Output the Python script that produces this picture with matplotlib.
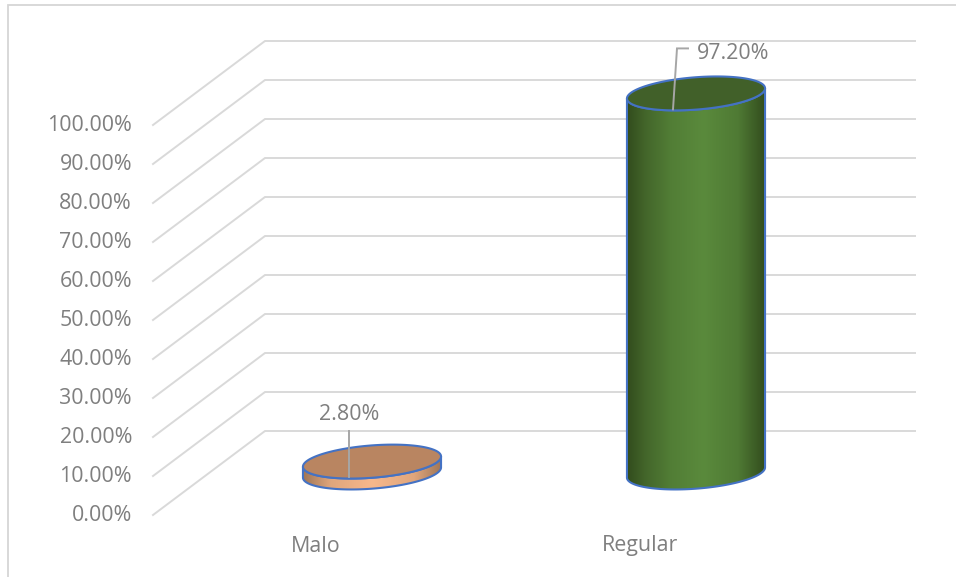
import numpy as np
import matplotlib
matplotlib.use("Agg")
import matplotlib.pyplot as plt
from matplotlib.colors import LinearSegmentedColormap
from matplotlib.patches import Polygon

categories = ["Malo", "Regular"]
values = [2.80, 97.20]
value_labels = ["2.80%", "97.20%"]
ticks = [0, 10, 20, 30, 40, 50, 60, 70, 80, 90, 100]
tick_labels = ["0.00%", "10.00%", "20.00%", "30.00%", "40.00%", "50.00%",
               "60.00%", "70.00%", "80.00%", "90.00%", "100.00%"]

W, H = 956, 577
PX_PER_CAT = 324.0
PX_PER_PCT = 3.9
X0_PX, BACK0_PX = 372.0, 431.0

GREY = "#7f7f7f"
GRID = "#d9d9d9"
EDGE = "#4472c4"
FONT = "Open Sans"
FS = 15.4


def dx(px):
    return px / PX_PER_CAT


def dy(px):
    return -px / PX_PER_PCT


fig = plt.figure(figsize=(W / 100, H / 100), dpi=100, facecolor="white")
ax = fig.add_axes([0, 0, 1, 1])
ax.set_xlim(-X0_PX / PX_PER_CAT, (W - X0_PX) / PX_PER_CAT)
ax.set_ylim((BACK0_PX - H) / PX_PER_PCT, BACK0_PX / PX_PER_PCT)
ax.axis("off")

# Chart frame
ax.plot([dx(7.5 - X0_PX)] * 2 + [dx(W - X0_PX)],
        [dy(H - BACK0_PX), dy(5 - BACK0_PX), dy(5 - BACK0_PX)],
        color="#d6d6d6", lw=1.3, solid_joinstyle="miter", zorder=1)

# Wall and floor gridlines in the oblique projection
wall_left = dx(265 - X0_PX)
wall_right = dx(915 - X0_PX)
front_left = dx(153 - X0_PX)
front_drop = dy(84)
for t, lab in zip(ticks, tick_labels):
    ax.plot([front_left, wall_left, wall_right], [t + front_drop, t, t],
            color=GRID, lw=1.4, solid_joinstyle="miter", zorder=2)
    ax.text(dx(132 - X0_PX), t + front_drop + dy(0.5), lab, ha="right", va="center",
            color=GREY, fontsize=FS, family=FONT, zorder=6)

# Cylinder geometry
A_PX, B_PX = 69.2, 16.3
TILT = np.radians(4.0)
FLOOR_DROP = dy(41.5)


def ellipse(cx, v, t):
    xp = A_PX * np.cos(t) * np.cos(TILT) - B_PX * np.sin(t) * np.sin(TILT)
    yp = -A_PX * np.cos(t) * np.sin(TILT) + B_PX * np.sin(t) * np.cos(TILT)
    return cx + dx(xp), v + FLOOR_DROP + dy(yp)


t_ext = np.arctan2(-B_PX * np.sin(TILT), A_PX * np.cos(TILT))


def cylinder(cx, v, side_colors, top_color):
    cmap = LinearSegmentedColormap.from_list("side", side_colors)
    lower = np.linspace(t_ext, t_ext + np.pi, 120)
    upper = np.linspace(t_ext + np.pi, t_ext, 120)
    xb, yb = ellipse(cx, 0, lower)
    xt, yt = ellipse(cx, v, upper)
    side = Polygon(np.r_[np.c_[xb, yb], np.c_[xt, yt]], closed=True,
                   facecolor="none", edgecolor=EDGE, lw=1.5, zorder=4)
    shade = ax.imshow(np.linspace(0, 1, 256)[None, :], cmap=cmap, aspect="auto",
                      extent=[cx - dx(A_PX), cx + dx(A_PX),
                              FLOOR_DROP + dy(40), v + FLOOR_DROP + dy(-40)],
                      zorder=3, interpolation="bilinear")
    ax.add_patch(side)
    shade.set_clip_path(side)
    t = np.linspace(0, 2 * np.pi, 240)
    xe, ye = ellipse(cx, v, t)
    ax.add_patch(Polygon(np.c_[xe, ye], closed=True, facecolor=top_color,
                         edgecolor=EDGE, lw=1.5, zorder=5))


orange_side = [(0, "#a07656"), (0.2, "#e0a67c"), (0.5, "#f7b88c"), (0.8, "#e0a67c"), (1, "#a07656")]
green_side = [(0, "#324c1d"), (0.14, "#44672b"), (0.32, "#527e36"), (0.55, "#5a8a3c"),
              (0.8, "#4f7a34"), (1, "#324c1d")]
cylinder(0, values[0], orange_side, "#b98561")
cylinder(1, values[1], green_side, "#416029")

ax.set_xlim(-X0_PX / PX_PER_CAT, (W - X0_PX) / PX_PER_CAT)
ax.set_ylim((BACK0_PX - H) / PX_PER_PCT, BACK0_PX / PX_PER_PCT)

# Category labels
for i, cat in enumerate(categories):
    ax.text(i - dx(56), dy(546 - BACK0_PX), cat, ha="center", va="center",
            color=GREY, fontsize=FS, family=FONT, zorder=6)

# Data labels and leader lines
low, high = values
leader = "#a6a6a6"
ax.plot([dx(-23)] * 2, [low + FLOOR_DROP + dy(15), dy(431 - BACK0_PX)],
        color=leader, lw=1.4, zorder=6)
ax.text(dx(-23), dy(415 - BACK0_PX), value_labels[0], ha="center", va="center",
        color=GREY, fontsize=FS, family=FONT, zorder=6)
ax.plot([1 + dx(-23), 1 + dx(-19), 1 + dx(-8)],
        [high + FLOOR_DROP + dy(16), high + FLOOR_DROP + dy(-45), high + FLOOR_DROP + dy(-45)],
        color=leader, lw=1.4, solid_joinstyle="miter", zorder=6)
ax.text(1 + dx(1), high + FLOOR_DROP + dy(-40), value_labels[1], ha="left", va="center",
        color=GREY, fontsize=FS, family=FONT, zorder=6)

fig.savefig("out.png", dpi=100, facecolor="white")
